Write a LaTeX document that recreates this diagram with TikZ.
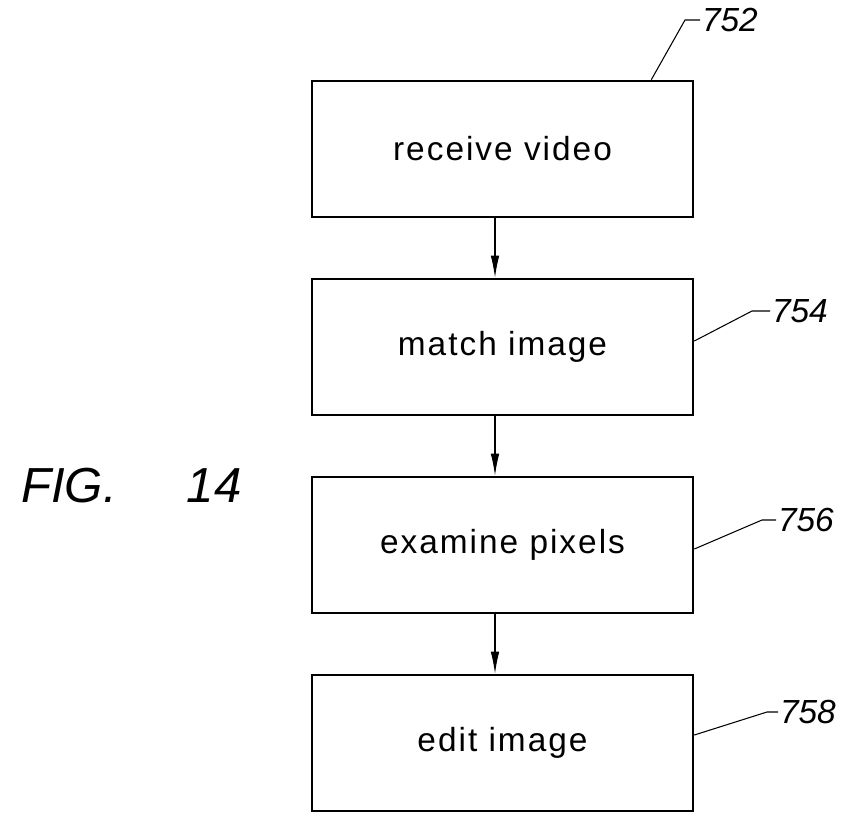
\documentclass[tikz,border=0pt]{standalone}
\usepackage{fontspec}
\usetikzlibrary{arrows.meta}
\setsansfont{Liberation Sans}
\newfontfamily\boxfont{Liberation Sans}[LetterSpace=6]

\begin{document}
\begin{tikzpicture}[>={Latex[length=0.44cm,width=0.17cm]},
        box node/.style={rectangle,draw,line width=1.5pt,minimum width=7.62cm,minimum height=2.72cm,font=\boxfont\fontsize{19}{23}\selectfont},
        ref node/.style={inner sep=1pt,anchor=west,font=\sffamily\itshape\fontsize{19}{23}\selectfont}]

    \useasboundingbox (0,0) rectangle (17.06,-16.28);

    \node[box node] (752) at (10.05,-2.98) {receive video};
    \node[box node] (754) at (10.05,-6.94) {match image};
    \node[box node] (756) at (10.05,-10.90) {examine pixels};
    \node[box node] (758) at (10.05,-14.86) {edit image};

    \path[->, line width=0.6pt]
    ([xshift=-0.15cm]752.south) edge ([xshift=-0.15cm]754.north)
    ([xshift=-0.15cm]754.south) edge ([xshift=-0.15cm]756.north)
    ([xshift=-0.15cm]756.south) edge ([xshift=-0.15cm]758.north);

    % reference numerals
    \node[ref node] (n752) at (14.0,-0.40) {752};
    \node[ref node] (n754) at (15.4,-6.22) {754};
    \node[ref node] (n756) at (15.52,-10.40) {756};
    \node[ref node] (n758) at (15.56,-14.24) {758};

    \draw[line width=0.6pt] ([xshift=-0.86cm]752.north east) -- (13.7,-0.40) -- (n752.west);
    \draw[line width=0.6pt] ([yshift=0.12cm]754.east) -- (15.04,-6.22) -- (n754.west);
    \draw[line width=0.6pt] ([yshift=-0.08cm]756.east) -- (15.24,-10.40) -- (n756.west);
    \draw[line width=0.6pt] ([yshift=0.16cm]758.east) -- (15.34,-14.24) -- (n758.west);

    \node[anchor=west, font=\sffamily\itshape\fontsize{28}{34}\selectfont] (fig) at (0.3,-9.72) {FIG.\hspace{1.4cm}14};

\end{tikzpicture}
\end{document}
